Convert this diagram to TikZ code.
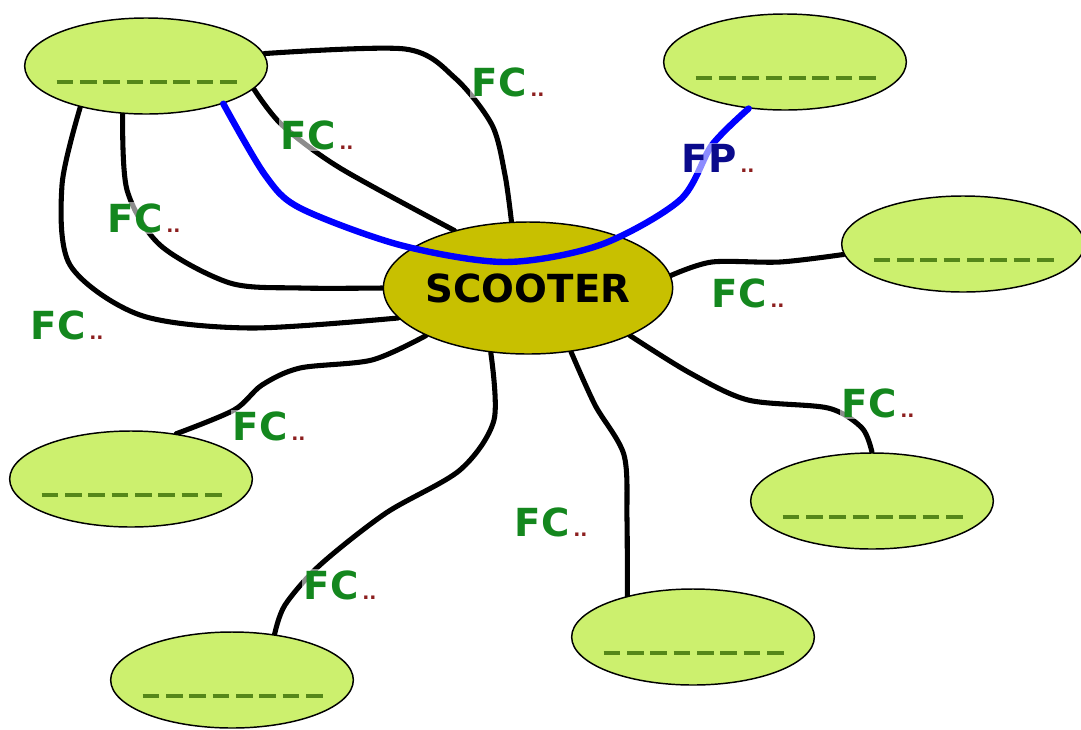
\documentclass[tikz,border=0pt]{standalone}
\usepackage{fontspec}
\setmainfont{DejaVu Sans}
\usepackage{xcolor}
\usetikzlibrary{shapes.geometric}
\usetikzlibrary{backgrounds}
\definecolor{leafgreen}{RGB}{204,240,110}
\definecolor{hubolive}{RGB}{200,192,0}
\definecolor{fcgreen}{RGB}{20,135,30}
\definecolor{fpnavy}{RGB}{10,10,140}
\definecolor{dotred}{RGB}{140,30,30}
\definecolor{dashgreen}{RGB}{85,135,25}
\newcommand{\reddots}{\hspace{3pt}{\fontsize{14}{14}\selectfont\color{dotred}..}}

\begin{document}
\begin{tikzpicture}[x=0.75pt,y=-0.75pt,
  leaf/.style={ellipse,draw,line width=1.1pt,fill=leafgreen,minimum width=182pt,minimum height=72pt,inner sep=0pt},
  hub/.style={ellipse,draw,line width=1.1pt,fill=hubolive,minimum width=216pt,minimum height=99pt,inner sep=0pt,font=\fontsize{29}{29}\selectfont\bfseries},
  link/.style={line width=3.8pt,line cap=round},
  fpline/.style={line width=4.8pt,blue,line cap=round},
  leafdash/.style={line width=2.6pt,dashgreen,dash pattern=on 12.5pt off 5pt},
  fclab/.style={anchor=west,inner sep=1pt,text=fcgreen,fill=white,fill opacity=0.55,text opacity=1,font=\fontsize{29}{29}\selectfont\bfseries}]
\useasboundingbox (0,0) rectangle (1081,729);

\node [hub] (scooter) at (528,288) {SCOOTER};
\node [leaf] (topleft) at (146,66) {};
\node [leaf] (topright) at (785,62) {};
\node [leaf] (right) at (963,244) {};
\node [leaf] (left) at (131,479) {};
\node [leaf] (lowleft) at (232,680) {};
\node [leaf] (bottom) at (693,637) {};
\node [leaf] (lowright) at (872,501) {};

% black links behind the ellipses
\begin{scope}[on background layer]
\draw [link] plot[smooth,tension=0.5] coordinates {(topleft.6) (405,49) (455,78) (492,125) (505,175) (scooter.104)};
\draw [link] plot[smooth,tension=0.5] coordinates {(topleft.-12) (282,125) (340,168) (scooter.142)};
\draw [link] plot[smooth,tension=0.5] coordinates {(topleft.-116) (127,190) (160,245) (230,283) (300,288) (scooter.west)};
\draw [link] plot[smooth,tension=0.5] coordinates {(topleft.-148) (62,185) (70,265) (140,315) (250,328) (scooter.193)};
\draw [link] plot[smooth,tension=0.5] coordinates {(scooter.5) (712,262) (780,262) (right.185)};
\draw [link] plot[smooth,tension=0.5] coordinates {(scooter.205) (372,360) (300,368) (262,385) (234,410) (left.45)};
\draw [link] plot[smooth,tension=0.5] coordinates {(scooter.240) (494,420) (460,470) (386,513) (320,565) (285,605) (lowleft.47)};
\draw [link] plot[smooth,tension=0.5] coordinates {(scooter.-56) (595,405) (624,455) (627,520) (bottom.148)};
\draw [link] plot[smooth,tension=0.5] coordinates {(scooter.-25) (690,373) (748,400) (828,408) (862,428) (lowright.north)};
\end{scope}

% blue link runs over the scooter
\draw [fpline] plot[smooth,tension=0.5] coordinates {(topleft.-26) (265,175) (300,208) (400,245) (505,262) (600,245) (680,200) (712,145) (topright.-128)};

\foreach \n in {topleft,topright,right,left,lowleft,bottom,lowright}
  \draw [leafdash] ([shift={(-67pt,-12pt)}]\n.center) -- ([shift={(71pt,-12pt)}]\n.center);

\node [fclab] (fc1) at (470,82) {FC\reddots};
\node [fclab] (fc2) at (279,135) {FC\reddots};
\node [fclab] (fc3) at (106,218) {FC\reddots};
\node [fclab] (fc4) at (29,325) {FC\reddots};
\node [fclab,text=fpnavy] (fp) at (680,158) {FP\reddots};
\node [fclab] (fc5) at (710,293) {FC\reddots};
\node [fclab] (fc6) at (231,426) {FC\reddots};
\node [fclab] (fc7) at (302,585) {FC\reddots};
\node [fclab] (fc8) at (513,522) {FC\reddots};
\node [fclab] (fc9) at (840,403) {FC\reddots};
\end{tikzpicture}
\end{document}
